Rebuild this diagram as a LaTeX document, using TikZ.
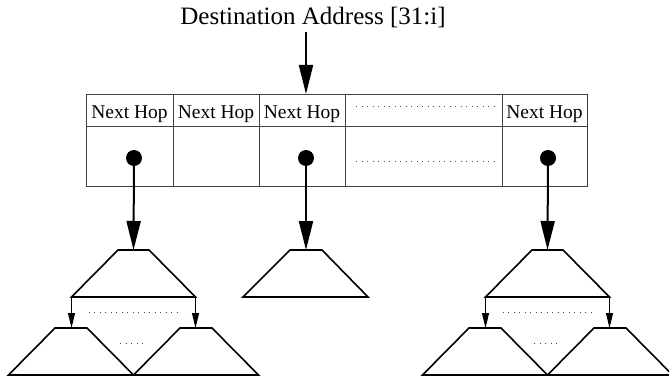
\documentclass[tikz,border=0pt]{standalone}
\usepackage{fontspec}
\setmainfont{Liberation Serif}
\usetikzlibrary{arrows.meta}
\begin{document}
\begin{tikzpicture}[x=1pt,y=-1pt,
 grid/.style={draw=black!75, line width=0.9pt},
 trap/.style={draw=black, line width=1.6pt, line join=miter},
 big/.style={line width=2pt, -{Triangle[length=29pt,width=14pt]}},
 small/.style={line width=1.1pt, -{Triangle[length=15pt,width=7pt]}},
 dots/.style={draw=black!70, line width=0.9pt, dash pattern=on 0.9pt off 4.6pt},
 hop/.style={font=\fontsize{19.5}{20}\selectfont, inner sep=0pt, anchor=base},
 knob/.style={circle, fill=black, minimum size=16pt, inner sep=0pt},
 tree/.pic={
  \coordinate (-top) at (0,250);
  \coordinate (-l) at (-62,297); \coordinate (-r) at (62,297);
  \coordinate (-lt) at (-62,328); \coordinate (-rt) at (62,328);
  \draw[trap] (-15.5,250) -- (15.5,250) -- (62,297) -- (-62,297) -- cycle;
  \draw[trap] (-78.5,328) -- (-46.5,328) -- (0,375) -- (-125,375) -- cycle;
  \draw[trap] (46.5,328) -- (78.5,328) -- (125,375) -- (0,375) -- cycle;
  \draw[small] (-l) -- (-lt);
  \draw[small] (-r) -- (-rt);
  \draw[dots] (-45,312) -- (45,312);
  \draw[dots] (-13.5,343) -- (13.5,343);
 }]
\useasboundingbox (0,0) rectangle (669,382);
% title and input arrow
\node[anchor=base, inner sep=0pt, font=\fontsize{25}{26}\selectfont] (title) at (313,25) {Destination Address [31:i]};
\coordinate (ain) at (306,32);
\coordinate (tin) at (306,94);
\draw[big] (ain) -- (tin);
% table
\draw[grid] (86,94) rectangle (587,186);
\draw[grid] (86,126) -- (587,126);
\foreach \x in {173,259,345,502} \draw[grid] (\x,94) -- (\x,186);
\node[hop] (h1) at (129.5,119) {Next Hop};
\node[hop] (h2) at (216,119) {Next Hop};
\node[hop] (h3) at (302,119) {Next Hop};
\node[hop] (h5) at (544.5,119) {Next Hop};
\draw[dots] (356,106) -- (496,106);
\draw[dots] (356,161) -- (496,161);
% pointers
\node[knob] (k1) at (134,158) {};
\node[knob] (k2) at (306,158) {};
\node[knob] (k3) at (548,158) {};
% subtrees
\pic (lt) at (133.5,0) {tree};
\pic (rt) at (547.5,0) {tree};
\coordinate (mtop) at (306,250);
\draw[trap] (290,250) -- (322,250) -- (368,297) -- (243,297) -- cycle;
\draw[big] (k1.center) -- (lt-top);
\draw[big] (k2.center) -- (mtop);
\draw[big] (k3.center) -- (rt-top);
\end{tikzpicture}
\end{document}
